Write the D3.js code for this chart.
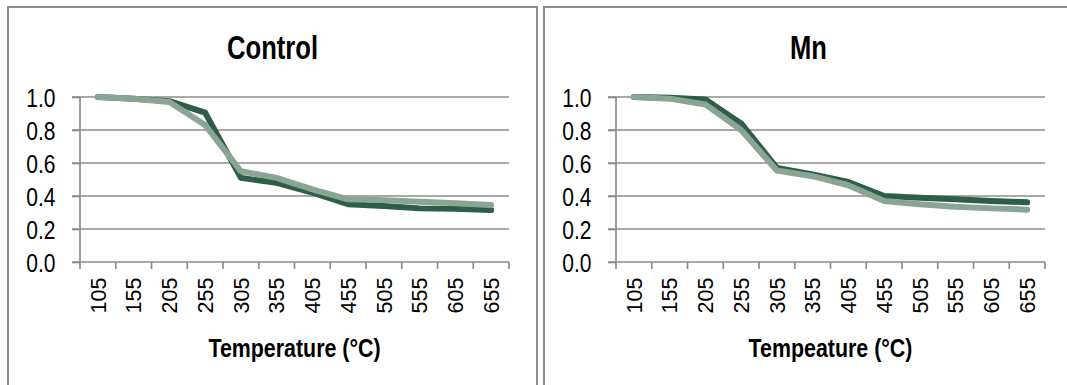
<!DOCTYPE html>
<html><head><meta charset="utf-8">
<script src="https://cdn.jsdelivr.net/npm/d3@7"></script>
<style>html,body{margin:0;padding:0;background:#fff;}svg{display:block;}</style>
</head><body>
<svg id="chart" width="1067" height="385"></svg>
<script>
const temperatures = ["105","155","205","255","305","355","405","455","505","555","605","655"];
const yTicks = [0.0, 0.2, 0.4, 0.6, 0.8, 1.0];
const controlDark  = [1.0, 0.99, 0.975, 0.905, 0.51, 0.48, 0.42, 0.35, 0.34, 0.325, 0.323, 0.315];
const controlLight = [1.0, 0.99, 0.97, 0.83, 0.55, 0.51, 0.44, 0.38, 0.375, 0.365, 0.356, 0.345];
const mnDark  = [1.0, 0.995, 0.985, 0.84, 0.57, 0.53, 0.485, 0.40, 0.39, 0.38, 0.37, 0.362];
const mnLight = [1.0, 0.99, 0.955, 0.80, 0.555, 0.52, 0.465, 0.37, 0.35, 0.335, 0.325, 0.317];
const panels = [
  {title:"Control", xTitle:"Temperature (°C)", dark:controlDark, light:controlLight, bx:8, plotX:80},
  {title:"Mn", xTitle:"Tempeature (°C)", dark:mnDark, light:mnLight, bx:544, plotX:616}
];
const svg = d3.select("#chart");
const grey = "#8c8c8c";
const darkC = "#2e5e4a", lightC = "#8aa596";
const plotW = 429, yTop = 97, yBot = 262, panelW = 529;
const font = "'Liberation Sans', Arial, sans-serif";

panels.forEach(p => {
  const g = svg.append("g");
  g.append("rect").attr("x", p.bx).attr("y", 7).attr("width", panelW).attr("height", 400)
    .attr("fill", "none").attr("stroke", grey).attr("stroke-width", 2);
  const x = d3.scaleBand().domain(temperatures).range([p.plotX, p.plotX + plotW]);
  const y = d3.scaleLinear().domain([0, 1]).range([yBot, yTop]);
  // gridlines
  g.append("g").selectAll("line").data(yTicks.filter(d => d > 0)).join("line")
    .attr("x1", p.plotX - 8).attr("x2", p.plotX + plotW)
    .attr("y1", d => y(d)).attr("y2", d => y(d))
    .attr("stroke", grey).attr("stroke-width", 1.7);
  // y axis
  const yAx = g.append("g").attr("transform", `translate(${p.plotX},0)`)
    .call(d3.axisLeft(y).tickValues(yTicks).tickSize(8).tickFormat(d3.format(".1f")));
  yAx.select(".domain").attr("stroke", grey).attr("stroke-width", 1.7).attr("d", `M0,${yTop}V${yBot}`);
  yAx.selectAll(".tick line").attr("stroke", grey).attr("stroke-width", 1.7);
  yAx.selectAll(".tick text").attr("font-family", font).attr("font-size", 21).attr("fill", "#000")
    .attr("x", 0).attr("y", 0).attr("dy", "0.36em").attr("text-anchor", "end")
    .attr("transform", "translate(-24.5,0) scale(1,1.25)");
  // x axis
  const xAx = g.append("g").attr("transform", `translate(0,${yBot})`)
    .call(d3.axisBottom(x).tickSize(0));
  xAx.select(".domain").attr("stroke", grey).attr("stroke-width", 1.7).attr("d", `M${p.plotX - 8},0H${p.plotX + plotW}`);
  xAx.selectAll(".tick text").attr("font-family", font).attr("font-size", 21.5).attr("fill", "#000")
    .attr("text-anchor", "end").attr("transform", "rotate(-90)")
    .attr("x", -15.5).attr("y", 0).attr("dy", "0.36em");
  // category boundary ticks
  const bounds = temperatures.map(t => x(t)).concat([p.plotX + plotW]);
  g.append("g").selectAll("line").data(bounds).join("line")
    .attr("x1", d => d).attr("x2", d => d).attr("y1", yBot).attr("y2", yBot + 7)
    .attr("stroke", grey).attr("stroke-width", 1.7);
  // lines
  const line = d3.line().x((d, i) => x(temperatures[i]) + x.bandwidth() / 2).y(d => y(d));
  [[p.dark, darkC], [p.light, lightC]].forEach(([vals, c]) => {
    g.append("path").datum(vals).attr("d", line).attr("fill", "none").attr("stroke", c)
      .attr("stroke-width", 6).attr("stroke-linejoin", "round").attr("stroke-linecap", "round");
  });
  // title
  g.append("text").attr("font-family", font).attr("font-weight", "bold").attr("font-size", 25.6)
    .attr("text-anchor", "middle").attr("fill", "#000")
    .attr("transform", `translate(${p.bx + panelW / 2},59) scale(1,1.27)`).text(p.title);
  // x title
  g.append("text").attr("font-family", font).attr("font-weight", "bold").attr("font-size", 21.4)
    .attr("text-anchor", "middle").attr("fill", "#000")
    .attr("transform", `translate(${p.plotX + plotW / 2},357) scale(1,1.22)`).text(p.xTitle);
});
</script>
</body></html>
